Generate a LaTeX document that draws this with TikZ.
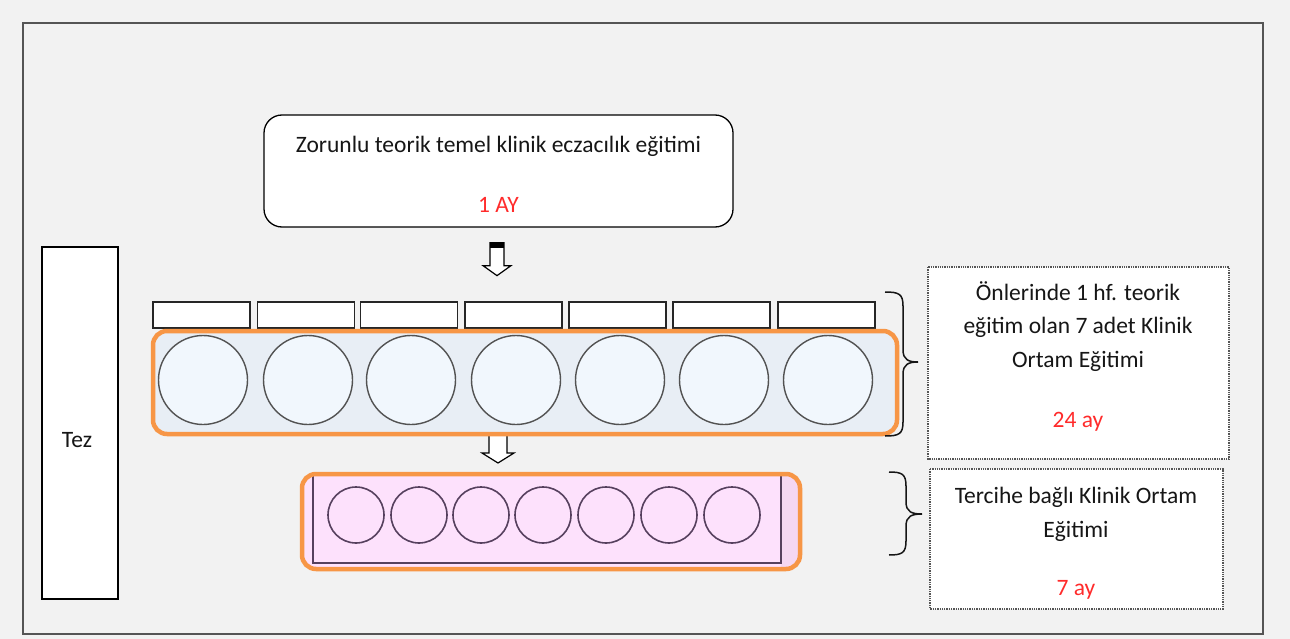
\documentclass[tikz,border=0pt]{standalone}
\usepackage{fontspec}
\setmainfont{Carlito}
\usetikzlibrary{calc}
\definecolor{bg}{HTML}{F2F2F2}
\definecolor{frame}{HTML}{555555}
\definecolor{orng}{HTML}{F79646}
\definecolor{bluefill}{HTML}{E8EEF5}
\definecolor{circfill}{HTML}{F1F7FD}
\definecolor{pinkfill}{HTML}{FDE1FC}
\definecolor{pinkside}{HTML}{F5D7F2}
\definecolor{purp}{HTML}{56405E}
\definecolor{redtxt}{HTML}{FF2B2B}
\definecolor{txt}{HTML}{161616}
% #1 end x, #2 spine x, #3 tip x, #4 top y, #5 mid y, #6 bottom y
\newcommand\mycurlybrace[6]{%
  \draw[bracestyle] (#1,#4) .. controls (#2-4,#4) and (#2,#4+2) .. (#2,#4+14)
    -- (#2,#5-12) .. controls (#2,#5-2) and (#2+6,#5) .. (#3,#5)
    .. controls (#2+6,#5) and (#2,#5+2) .. (#2,#5+12)
    -- (#2,#6-14) .. controls (#2,#6-2) and (#2-4,#6) .. (#1,#6);}
\begin{document}
\begin{tikzpicture}[x=1pt,y=-1pt,
  lbl/.style={font=\fontsize{23.5}{28}\selectfont, text=txt, anchor=base, inner sep=0pt},
  redlbl/.style={lbl, text=redtxt},
  topbox/.style={draw=black, line width=1.3pt, fill=white, rounded corners=18pt, minimum width=469pt, minimum height=112pt, inner sep=0pt},
  slot/.style={draw=black!85, line width=1.4pt, fill=white, minimum width=97pt, minimum height=26pt, inner sep=0pt},
  bigcirc/.style={circle, draw=black!68, line width=1.4pt, fill=circfill, minimum size=89pt, inner sep=0pt},
  smallcirc/.style={circle, draw=purp, line width=1.6pt, minimum size=56pt, inner sep=0pt},
  orangebox/.style={draw=orng, line width=4.5pt, rounded corners=14pt},
  dotbox/.style={draw=frame, densely dotted, line width=1.3pt, fill=white, inner sep=0pt},
  bracestyle/.style={draw=txt, line width=1.5pt},
  blockarrow/.style={draw=black, line width=1.2pt, fill=white, line join=miter}
]
\useasboundingbox (0,0) rectangle (1290,639);
\fill[bg] (0,0) rectangle (1290,639);
\draw[frame, line width=1.3pt] (23,23) rectangle (1263,634);

% top box
\node[topbox] (top) at (498.5,171) {};
\node[lbl] (toptxt) at (498.5,153) {Zorunlu teorik temel klinik eczacılık eğitimi};
\node[redlbl] (topred) at (498.5,212) {1 AY};

% arrow 1
\coordinate (a1) at ($(top.south)+(-1.5,15)$);
\draw[blockarrow] ($(a1)+(-7,0)$) -- ++(14,0) -- ++(0,23) -- ++(7,0) -- ++(-14,10) -- ++(-14,-10) -- ++(7,0) -- cycle;
\fill[black] ($(a1)+(-7,-1)$) rectangle ($(a1)+(7,5)$);

% Tez
\node[draw=black, line width=1.3pt, fill=white, minimum width=76pt, minimum height=352pt, inner sep=0pt] (tez) at (80,423) {};
\node[lbl] (teztxt) at (77,447) {Tez};

% slots
\foreach \x [count=\i] in {201.5,306,409,513.5,617.5,721.5,826.5}{
  \node[slot] (s\i) at (\x,315) {};
}

% upper orange box
\fill[bluefill, rounded corners=14pt] (153,331) rectangle (897,434);
\coordinate (a2) at (498,434);
\draw[blockarrow] ($(a2)+(-9,0)$) -- ++(18,0) -- ++(0,19) -- ++(7,0) -- ++(-16,10) -- ++(-16,-10) -- ++(7,0) -- cycle;
\foreach \x [count=\i] in {203,308,411,516,620,724,828}{
  \node[bigcirc] (c\i) at (\x,380) {};
}
\draw[orangebox] (153,331) rectangle (897,434);

% lower pink box
\fill[pinkfill, rounded corners=14pt] (302,474) rectangle (800,569);
\begin{scope}
  \clip[rounded corners=14pt] (302,474) rectangle (800,569);
  \fill[pinkside] (781,470) rectangle (805,575);
\end{scope}
\draw[purp, line width=1.3pt] (313,476) -- (313,563) -- (781,563) -- (781,476);
\foreach \x [count=\i] in {356,419,481,543,606,669,732}{
  \node[smallcirc] (p\i) at (\x,515) {};
}
\draw[orangebox] (302,474) rectangle (800,569);

% braces
\mycurlybrace{885}{903}{918}{292}{362}{436}
\mycurlybrace{889}{906}{922}{472}{514}{555}

% dotted boxes
\draw[dotbox] (928,267) rectangle (1229,459);
\node[lbl] (d1a) at (1078,300) {Önlerinde 1 hf. teorik};
\node[lbl] (d1b) at (1078,333) {eğitim olan 7 adet Klinik};
\node[lbl] (d1c) at (1078,367) {Ortam Eğitimi};
\node[redlbl] (d1d) at (1078,427) {24 ay};

\draw[dotbox] (930,469) rectangle (1223,609);
\node[lbl] (d2a) at (1076,503) {Tercihe bağlı Klinik Ortam};
\node[lbl] (d2b) at (1076,537) {Eğitimi};
\node[redlbl] (d2c) at (1076,595) {7 ay};
\end{tikzpicture}
\end{document}
